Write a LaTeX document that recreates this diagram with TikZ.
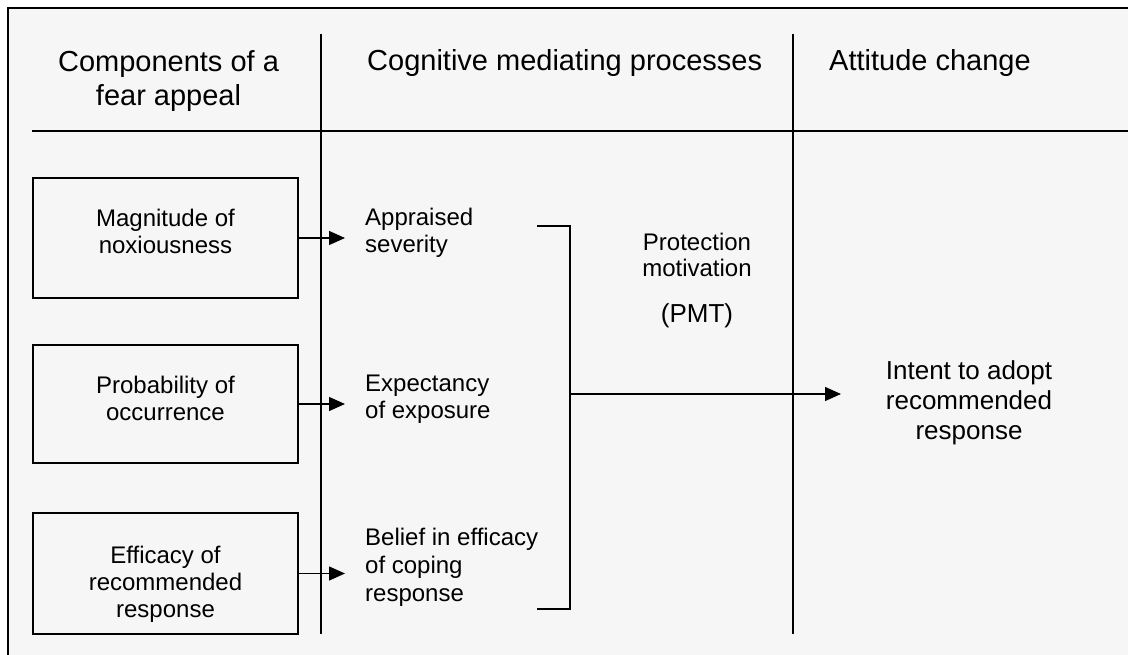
\documentclass[tikz,border=0pt]{standalone}
\usepackage{fontspec}
\setmainfont{Liberation Sans}
\usetikzlibrary{arrows.meta}

\begin{document}
\begin{tikzpicture}[x=1pt,y=-1pt,
  line/.style={line width=1.3pt,black},
  frameline/.style={line width=2.2pt,black},
  arr/.style={line width=1.3pt,-{Triangle[length=16pt,width=14pt]}},
  boxnode/.style={draw,line width=1.3pt,minimum width=265pt,inner sep=0pt},
  headtext/.style={font=\fontsize{29}{34}\selectfont,inner sep=0pt},
  bodytext/.style={font=\fontsize{24}{27}\selectfont,inner sep=0pt},
  bigtext/.style={font=\fontsize{26}{30}\selectfont,inner sep=0pt}]

  \useasboundingbox (0,0) rectangle (1128,655);
  % paper background and frame
  \fill[gray!7] (8,8) rectangle (1128,655);
  \draw[frameline] (8,655) -- (8,8) -- (1128,8);

  % column rules
  \coordinate (c1t) at (321,34);  \coordinate (c1b) at (321,634);
  \coordinate (c2t) at (793,34);  \coordinate (c2b) at (793,634);
  \coordinate (hl) at (32,131);   \coordinate (hr) at (1128,131);
  \draw[line] (c1t) -- (c1b);
  \draw[line] (c2t) -- (c2b);
  \draw[line] (hl) -- (hr);

  % headings (base anchor = baseline of the last line)
  \node[headtext,align=center,anchor=base] (h1) at (168.5,106) {Components of a\\fear appeal};
  \node[headtext,anchor=base west] (h2) at (367,71) {Cognitive mediating processes};
  \node[headtext,anchor=base west] (h3) at (829,71) {Attitude change};

  % fear appeal components
  \node[boxnode,minimum height=120pt] (b1) at (165.5,238) {};
  \node[boxnode,minimum height=118pt] (b2) at (165.5,404) {};
  \node[boxnode,minimum height=121pt] (b3) at (165.5,573.5) {};
  \node[bodytext,align=center,anchor=base] (t1) at (165.5,254) {Magnitude of\\noxiousness};
  \node[bodytext,align=center,anchor=base] (t2) at (165.5,420) {Probability of\\occurrence};
  \node[bodytext,align=center,anchor=base] (t3) at (165.5,617) {Efficacy of\\recommended\\response};

  % cognitive mediating processes
  \node[bodytext,align=left,anchor=base west] (m1) at (365,253) {Appraised\\severity};
  \node[bodytext,align=left,anchor=base west] (m2) at (365,418) {Expectancy\\of exposure};
  \node[bodytext,align=left,anchor=base west,font=\fontsize{24}{28}\selectfont] (m3) at (365,601) {Belief in efficacy\\of coping\\response};

  \coordinate (tip) at (345,0);
  \draw[arr] (b1.east) -- (b1.east -| tip);
  \draw[arr] (b2.east) -- (b2.east -| tip);
  \draw[arr] (b3.east) -- (b3.east -| tip);

  % bracket gathering the three appraisals
  \coordinate (bt) at (537,226);
  \coordinate (bb) at (537,609);
  \coordinate (jn) at (570,394);
  \draw[line] (bt) -- (570,226) -- (570,609) -- (bb);

  % protection motivation
  \node[bodytext,align=center,anchor=base] (pm) at (697,277) {Protection\\motivation};
  \node[bigtext,anchor=base] (pmt) at (697,323) {(PMT)};

  % attitude change
  \node[bigtext,align=center,anchor=base] (it) at (969,439) {Intent to adopt\\recommended\\response};
  \coordinate (itip) at (841,394);
  \draw[arr] (jn) -- (itip);
\end{tikzpicture}
\end{document}
